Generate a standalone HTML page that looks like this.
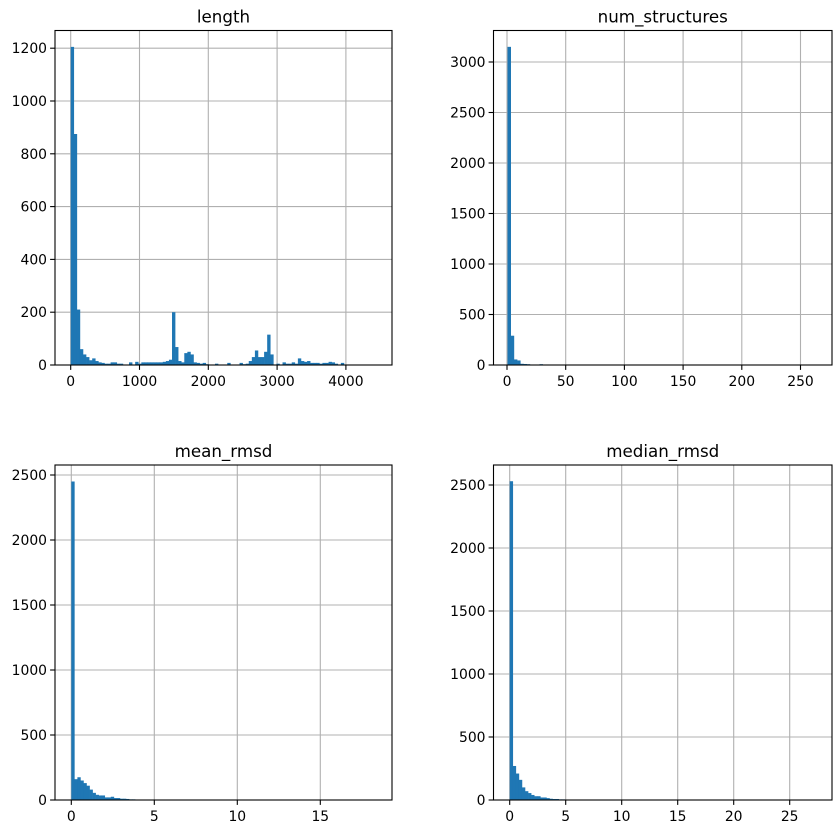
<!DOCTYPE html>
<html><head><meta charset="utf-8"><style>
html,body{margin:0;padding:0;background:#fff;}
svg text{font-family:"DejaVu Sans","Liberation Sans",sans-serif;fill:#000;}
</style></head><body>
<svg id="s" width="840" height="834" xmlns="http://www.w3.org/2000/svg"></svg>
<script>
const s=document.getElementById('s');let h='';
function panel(o){
 const {L,R,T,B,title,x0,pxx,xt,y0,pxy,yt,bx,bw,data}=o;
 xt.forEach(v=>{const x=x0+v*pxx;h+=`<line x1="${x}" y1="${T}" x2="${x}" y2="${B}" stroke="#b0b0b0" stroke-width="1.1"/>`;});
 yt.forEach(v=>{const y=y0-v*pxy;h+=`<line x1="${L}" y1="${y}" x2="${R}" y2="${y}" stroke="#b0b0b0" stroke-width="1.1"/>`;});
 data.forEach((c,i)=>{if(c>0){const hh=c*pxy;h+=`<rect x="${bx+i*bw}" y="${y0-hh}" width="${bw+0.3}" height="${hh}" fill="#1f77b4"/>`;}});
 h+=`<rect x="${L}" y="${T}" width="${R-L}" height="${B-T}" fill="none" stroke="#000" stroke-width="1.1"/>`;
 xt.forEach(v=>{const x=x0+v*pxx;h+=`<line x1="${x}" y1="${B}" x2="${x}" y2="${B+4.9}" stroke="#000" stroke-width="1.1"/><text x="${x}" y="${B+21}" font-size="13.9" text-anchor="middle">${v}</text>`;});
 yt.forEach(v=>{const y=y0-v*pxy;h+=`<line x1="${L-4.9}" y1="${y}" x2="${L}" y2="${y}" stroke="#000" stroke-width="1.1"/><text x="${L-8}" y="${y+5}" font-size="13.9" text-anchor="end">${v}</text>`;});
 h+=`<text x="${(L+R)/2}" y="${T-8}" font-size="16.7" text-anchor="middle">${title}</text>`;
}
const lenD=[1205,875,210,60,40,30,18,25,15,10,8,5,5,10,10,5,5,0,0,10,0,12,5,10,10,10,10,10,10,10,12,15,20,200,68,15,10,45,50,40,10,8,5,8,3];
for(let i=0;i<100;i++)if(lenD[i]===undefined)lenD[i]=0;
const tail={47:5,51:8,55:8,56:3,57:5,58:15,59:30,60:55,61:30,62:30,63:50,64:115,65:40,67:5,69:10,70:5,71:5,72:10,73:5,74:25,75:15,76:12,77:15,78:8,79:8,80:8,81:5,82:8,83:8,84:12,85:10,86:5,88:8};
for(const k in tail)lenD[k]=tail[k];
panel({L:55,R:392,T:30.5,B:365,title:'length',x0:70.7,pxx:0.0688,xt:[0,1000,2000,3000,4000],y0:365,pxy:52.8/200,yt:[0,200,400,600,800,1000,1200],bx:70.7,bw:3.07,data:lenD});
panel({L:493.5,R:832,T:30.5,B:365,title:'num_structures',x0:507,pxx:58.7/50,xt:[0,50,100,150,200,250],y0:365,pxy:50.5/500,yt:[0,500,1000,1500,2000,2500,3000],bx:507.5,bw:3.2,data:[3150,290,55,45,12,10,8,5,5,3,8,3,5,0,0,3]});
panel({L:55,R:392,T:465,B:800,title:'mean_rmsd',x0:71.3,pxx:16.6,xt:[0,5,10,15],y0:800,pxy:65/500,yt:[0,500,1000,1500,2000,2500],bx:71.3,bw:3.04,data:[2450,160,175,150,130,110,80,55,40,35,35,20,20,25,15,15,10,10,8,5,5,3]});
panel({L:493.5,R:832,T:465,B:800,title:'median_rmsd',x0:509.7,pxx:11.2,xt:[0,5,10,15,20,25],y0:800,pxy:63/500,yt:[0,500,1000,1500,2000,2500],bx:509.7,bw:3.06,data:[2530,270,210,160,100,70,55,40,30,30,20,20,15,10,8,8,5,5,3]});
s.innerHTML=h;
</script>
</body></html>
